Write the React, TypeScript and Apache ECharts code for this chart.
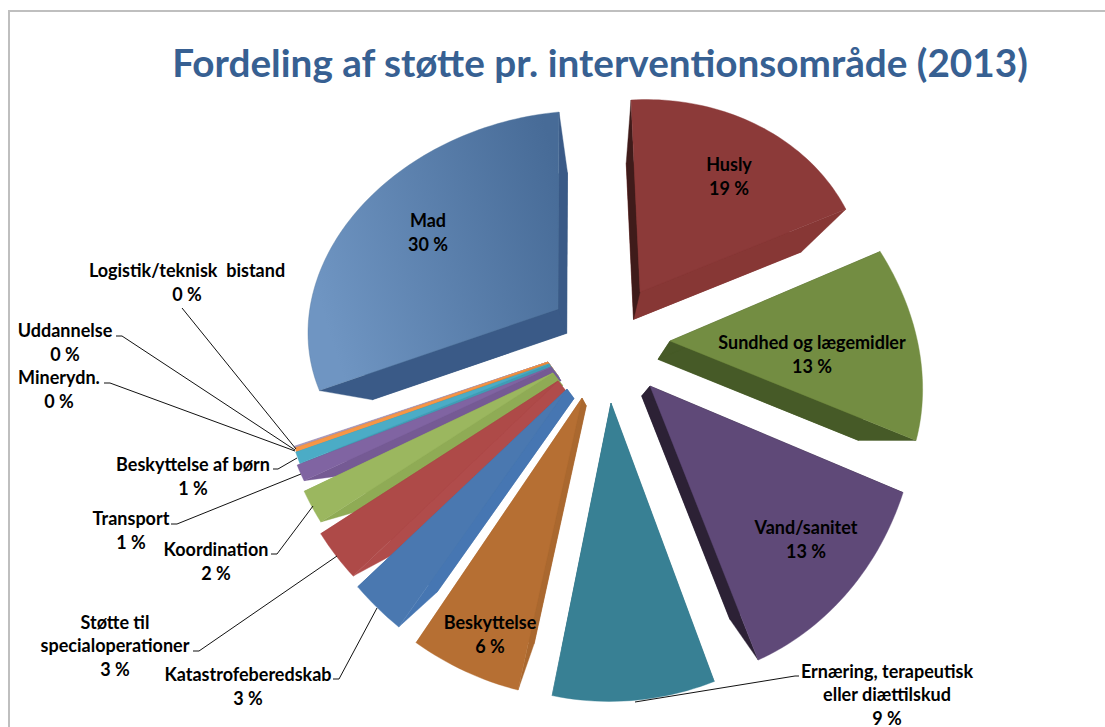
import React, { useEffect, useRef } from "react";
import * as echarts from "echarts";

const TITLE = "Fordeling af støtte pr. interventionsområde (2013)";

const categories = [
  "Husly", "Sundhed og lægemidler", "Vand/sanitet", "Ernæring, terapeutisk\neller diættilskud", "Beskyttelse",
  "Katastrofeberedskab", "Støtte til\nspecialoperationer", "Koordination", "Transport", "Beskyttelse af børn",
  "Minerydn.", "Uddannelse", "Logistik/teknisk  bistand", "Mad",
];
const values = [19, 13, 13, 9, 6, 3, 3, 2, 1, 0.7, 0.3, 0.05, 0.05, 29.9];
const shownPercents = [19, 13, 13, 9, 6, 3, 3, 2, 1, 1, 0, 0, 0, 30];

// Exploded, perspective-distorted frame of each slice: cx, cy, rx, ry and two shear terms
const frames = [
  [640, 292, 225, 192, -9, 13],
  [670, 341, 247, 238, -53, 2],
  [650, 386, 267, 295, -27, 21],
  [611, 403, 291, 298, -14, 16],
  [582, 398, 296, 301, -10, 2],
  [567, 389, 289, 305, -2, -15],
  [558, 381, 281, 285, 0, 0],
  [553, 373, 275, 278, 0, 0],
  [551, 367, 273, 267, 0, 0],
  [549, 364, 268, 270, 0, 0],
  [548, 362, 266, 278, 0, 0],
  [548, 362, 266, 278, 0, 0],
  [548, 362, 266, 278, 0, 0],
  [558, 309, 250, 197, 1, 23],
];
const faceColors = [
  "#8c3a39", "#738d42", "#5f4978", "#388094", "#b66f33", "#4a78b0", "#ae4a48",
  "#9bb75f", "#8064a2", "#4bacc6", "#f79646", "#a99bbd", "#a99bbd", "#5a80ac",
];
const startWallColors = [
  "#3f1b1a", "#465a27", "#2c2135", "#2f6c7e", "#aa682f", "#4676b2", "#b04c4b",
  "#8fab55", "#755a94", "#3f9db5", "#e08a3e", "#a99bbd", "#a99bbd", "#3a5a87",
];
const endWallColors = [
  "#873735", "#465a27", "#2c2135", "#2f6c7e", "#aa682f", "#466fa6", "#a34443",
  "#8fab55", "#755a94", "#3f9db5", "#e08a3e", "#a99bbd", "#a99bbd", "#3a5a87",
];
// Paint order: the narrow fan stacks from the top slice down to the blue one
const paintRank = [20, 20, 20, 20, 20, 13, 12, 11, 10, 9, 8, 7, 6, 20];
// Label block centres (x, y of the middle of the block)
const labelCenters = [
  [729, 176], [812, 354], [806, 539], [887, 694], [490, 634], [248, 686], [115, 645],
  [216, 561], [131, 530], [193, 476], [59, 389], [65, 342], [187, 282], [428, 232],
];
const leaders: (number[][] | null)[] = [
  null, null, null,
  [[799, 676], [795, 676], [635, 702]],
  null,
  [[333, 679], [339, 679], [377, 608]],
  [[193, 651], [199, 651], [337, 556]],
  [[271, 554], [277, 554], [313, 506]],
  [[171, 524], [177, 524], [301, 474]],
  [[273, 469], [278, 469], [297, 458]],
  [[104, 383], [110, 383], [295, 451]],
  [[116, 336], [122, 336], [295, 450]],
  [[182, 308], [296, 449]],
  null,
];
const VANISH = [605, 440];
const BOTTOM_SCALE = 0.815;

const FONT = 'Lato, "Noto Sans", sans-serif';

function renderSlice(params: any, api: any) {
  const i = params.dataIndex;
  const total = values.reduce((a, b) => a + b, 0);
  let cum = 0;
  for (let k = 0; k < i; k++) cum += values[k];
  const span = api.value(0);
  const t1 = Math.PI / 2 - (cum / total) * 2 * Math.PI;
  const t2 = t1 - (span / total) * 2 * Math.PI;
  const [cx, cy, rx, ry, sx, sy] = frames[i];
  const onRim = (t: number) => [
    cx + rx * Math.cos(t) + sx * Math.sin(t),
    cy - ry * Math.sin(t) - sy * Math.cos(t),
  ];
  const toBottom = (p: number[]) => [
    VANISH[0] + (p[0] - VANISH[0]) * BOTTOM_SCALE,
    VANISH[1] + (p[1] - VANISH[1]) * BOTTOM_SCALE,
  ];
  const apex = [cx, cy];
  const steps = Math.max(4, Math.ceil(Math.abs(t2 - t1) * 40));
  const rim: number[][] = [];
  for (let s = 0; s <= steps; s++) rim.push(onRim(t1 + ((t2 - t1) * s) / steps));
  const top = [apex, ...rim];
  const bottom = top.map(toBottom);
  const first = rim[0];
  const last = rim[rim.length - 1];
  const base = paintRank[i] * 10;

  const poly = (points: number[][], fill: any, z2: number) => ({
    type: "polygon",
    z2: base + z2,
    shape: { points },
    style: { fill, stroke: typeof fill === "string" ? fill : "#56799f", lineWidth: 0.4 },
  });

  let fill: any = faceColors[i];
  if (categories[i] === "Mad") {
    fill = new echarts.graphic.LinearGradient(0, 0.55, 1, 0.2, [
      { offset: 0, color: "#6f95c2" },
      { offset: 1, color: "#476b97" },
    ]);
  }

  const children: any[] = [
    poly(bottom, endWallColors[i], 1),
    poly([apex, last, toBottom(last), toBottom(apex)], endWallColors[i], 2),
    poly([apex, first, toBottom(first), toBottom(apex)], startWallColors[i], 2),
    poly(top, fill, 3),
  ];
  const line = leaders[i];
  if (line) {
    children.push({
      type: "polyline",
      z2: 500,
      shape: { points: line },
      style: { fill: "none", stroke: "#111", lineWidth: 1 },
    });
  }
  children.push({
    type: "text",
    z2: 600,
    style: {
      text: `${categories[i]}\n${shownPercents[i]} %`,
      x: labelCenters[i][0],
      y: labelCenters[i][1],
      align: "center",
      verticalAlign: "middle",
      font: `bold 18px ${FONT}`,
      lineHeight: 23.5,
      fill: "#000",
    },
  });
  return { type: "group", children };
}

export default function App() {
  const ref = useRef<HTMLDivElement>(null);
  useEffect(() => {
    document.body.style.margin = "0";
    const chart = echarts.init(ref.current!, null, { renderer: "svg" });
    chart.setOption({
      animation: false,
      backgroundColor: "#ffffff",
      title: {
        text: TITLE,
        left: 595,
        top: 37,
        textAlign: "center",
        textStyle: { color: "#376092", fontFamily: FONT, fontWeight: "bold", fontSize: 38.7 },
      },
      graphic: [
        {
          type: "polyline",
          silent: true,
          shape: { points: [[9, 727], [9, 11], [1105, 11]] },
          style: { fill: "none", stroke: "#bfbfbf", lineWidth: 2 },
        },
      ],
      series: [
        {
          type: "custom",
          coordinateSystem: "none",
          silent: true,
          renderItem: renderSlice,
          data: values.map((v, i) => ({ name: categories[i], value: [v] })),
        },
      ],
    });
    return () => chart.dispose();
  }, []);
  return (
    <div
      ref={ref}
      style={{ position: "absolute", left: 0, top: 0, width: 1105, height: 727, overflow: "hidden" }}
    />
  );
}
